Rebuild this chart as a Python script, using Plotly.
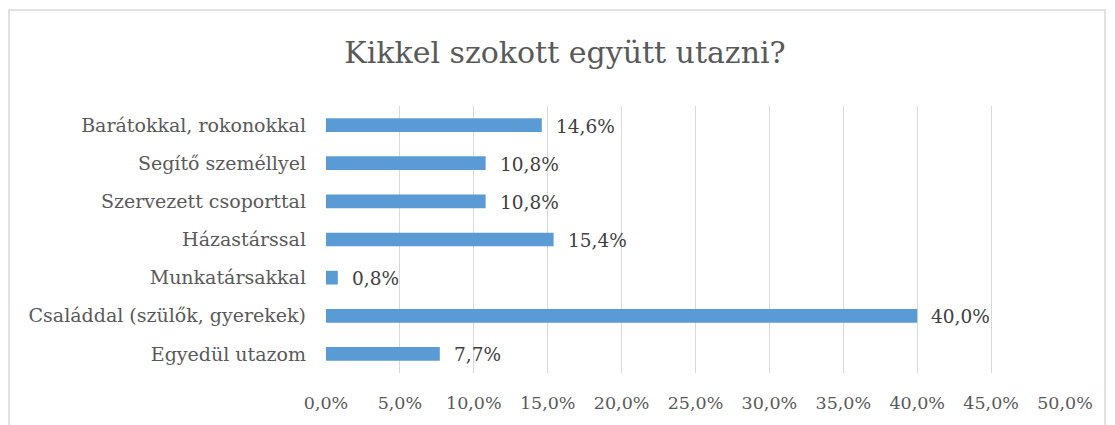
import plotly.graph_objects as go

categories = ["Egyedül utazom", "Családdal (szülők, gyerekek)", "Munkatársakkal",
              "Házastárssal", "Szervezett csoporttal", "Segítő személlyel",
              "Barátokkal, rokonokkal"]
values = [7.7, 40.0, 0.8, 15.4, 10.8, 10.8, 14.6]
x_ticks = [0, 5, 10, 15, 20, 25, 30, 35, 40, 45, 50]
title_text = "Kikkel szokott együtt utazni?"

FONT = "DejaVu Serif"
OFF = 8  # page body margin offset

fig = go.Figure()
fig.add_trace(go.Bar(
    x=values, y=categories, orientation="h",
    marker=dict(color="#5B9BD5", line=dict(width=0)),
    width=0.36, hoverinfo="skip",
))

for c, v in zip(categories, values):
    fig.add_annotation(
        x=v, y=c, xref="x", yref="y",
        text=f"{v:.1f}".replace(".", ",") + "%",
        showarrow=False, xanchor="left", yanchor="middle", xshift=12, yshift=-1,
        font=dict(family=FONT, size=18.5, color="#404040"),
    )

W, H = 1115, 425
L, T = 326 - OFF, 106 - OFF
R = W - (1065 - OFF)
B = H - (373 - OFF)
pw, ph = W - L - R, H - T - B

fig.add_shape(
    type="rect", xref="paper", yref="paper",
    x0=(9 - OFF - L) / pw, x1=(1105 - OFF - L) / pw,
    y0=(H - B - 450) / ph, y1=(H - B - (10 - OFF)) / ph,
    line=dict(color="#D9D9D9", width=1.5), fillcolor="rgba(0,0,0,0)", layer="below",
)

fig.update_layout(
    width=W, height=H,
    margin=dict(l=L, r=R, t=T, b=B),
    paper_bgcolor="white", plot_bgcolor="white",
    separators=", ",
    showlegend=False,
    title=dict(text=title_text, x=(565 - OFF) / W, xanchor="center", xref="container",
               y=1 - (52 - OFF) / H, yanchor="middle", yref="container",
               font=dict(family=FONT, size=30, color="#595959")),
    font=dict(family=FONT, size=19, color="#595959"),
    bargap=0.64,
)
fig.update_xaxes(
    range=[0, 50], tickvals=x_ticks,
    ticktext=[f"{t:.1f}".replace(".", ",") + "%" for t in x_ticks],
    showgrid=True, gridcolor="#D9D9D9", gridwidth=1.3,
    zeroline=False, showline=False, ticks="",
    ticklabelstandoff=17,
    tickfont=dict(family=FONT, size=17.5, color="#595959"),
)
fig.update_yaxes(
    categoryorder="array", categoryarray=categories,
    showgrid=False, zeroline=False, showline=False, ticks="",
    ticklabelstandoff=19,
    tickfont=dict(family=FONT, size=19, color="#595959"),
)

fig.write_html("out.html")
